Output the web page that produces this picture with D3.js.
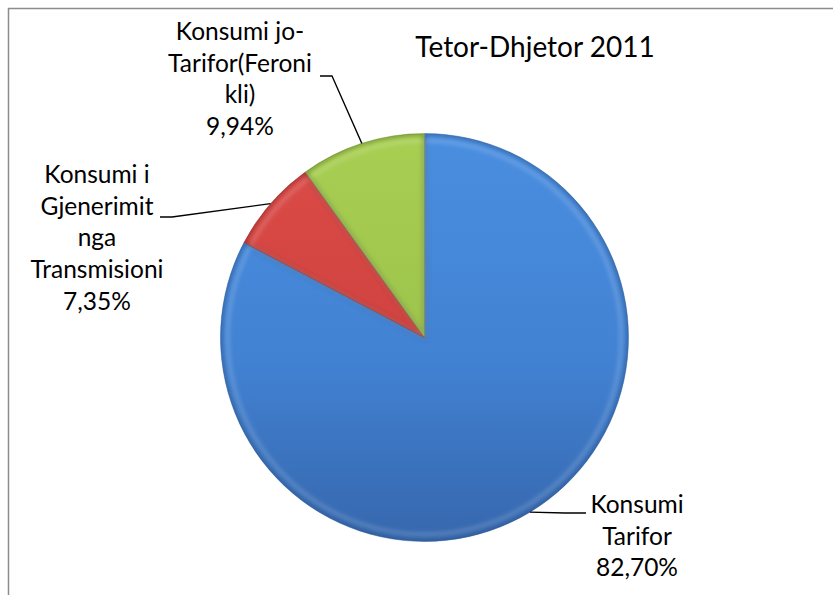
<!DOCTYPE html>
<html>
<head>
<meta charset="utf-8">
<script src="https://cdn.jsdelivr.net/npm/d3@7/dist/d3.min.js"></script>
<style>
  html, body { margin: 0; padding: 0; background: #fff; }
  svg { display: block; }
  text { font-family: Lato, "Open Sans", sans-serif; fill: #000; }
</style>
</head>
<body>
<svg id="chart" width="833" height="595"></svg>
<script>
// ---- data ----
const chartTitle = "Tetor-Dhjetor 2011";
const categories = ["Konsumi Tarifor", "Konsumi i Gjenerimit nga Transmisioni", "Konsumi jo-Tarifor(Feroni kli)"];
const values = [82.70, 7.35, 9.94];
const valueLabels = ["82,70%", "7,35%", "9,94%"];
const labelLines = [
  ["Konsumi", "Tarifor"],
  ["Konsumi i", "Gjenerimit", "nga", "Transmisioni"],
  ["Konsumi jo-", "Tarifor(Feroni", "kli)"]
];

// ---- layout / style ----
const W = 833, H = 595;
const cx = 424.5, cy = 337.5, R = 204;
const baseColors = ["#4282d3", "#cf423f", "#9dc44b"];
const lightColors = ["#4a8ee0", "#dc4c48", "#a8cf52"];
const darkColors = ["#3667ad", "#a83532", "#7f9f3a"];
const edgeColors = ["#2c5590", "#8e2a28", "#5f7a2a"];
const labelPos = [
  { x: 637, y: 513, end: [586, 513], elbow: [565, 513] },
  { x: 97,  y: 183, end: [160, 217], elbow: [172, 217] },
  { x: 240, y: 40,  end: [320, 76],  elbow: [332, 76] }
];
const lineH = 31.7;
const fontSize = 24.5;

const svg = d3.select("#chart");
const defs = svg.append("defs");

// frame
svg.append("path")
  .attr("d", `M8.5,${H} L8.5,8.5 L${W},8.5`)
  .attr("fill", "none")
  .attr("stroke", "#8c8c8c")
  .attr("stroke-width", 1.5);

const pie = d3.pie().sort(null).value(d => d)(values);
const arc = d3.arc().innerRadius(0).outerRadius(R);
const rimArc = d3.arc().innerRadius(R).outerRadius(R);

const g = svg.append("g").attr("transform", `translate(${cx},${cy})`);

// blur filter for soft bevel edges
const f = defs.append("filter").attr("id", "soft").attr("x", "-10%").attr("y", "-10%").attr("width", "120%").attr("height", "120%");
f.append("feGaussianBlur").attr("stdDeviation", 2.2);

pie.forEach((d, i) => {
  const grad = defs.append("linearGradient")
    .attr("id", "grad" + i)
    .attr("gradientUnits", "userSpaceOnUse")
    .attr("x1", 0).attr("y1", -R).attr("x2", 0).attr("y2", R);
  grad.append("stop").attr("offset", "0%").attr("stop-color", lightColors[i]);
  grad.append("stop").attr("offset", "55%").attr("stop-color", baseColors[i]);
  grad.append("stop").attr("offset", "100%").attr("stop-color", darkColors[i]);

  defs.append("clipPath").attr("id", "clip" + i)
    .append("path").attr("d", arc(d));
});

pie.forEach((d, i) => {
  const sg = g.append("g");
  sg.append("path")
    .attr("d", arc(d))
    .attr("fill", `url(#grad${i})`);
  const bev = sg.append("g").attr("clip-path", `url(#clip${i})`);
  bev.append("path")
    .attr("d", arc(d))
    .attr("fill", "none")
    .attr("stroke", edgeColors[i])
    .attr("stroke-opacity", 0.55)
    .attr("stroke-width", 5)
    .attr("filter", "url(#soft)");
  bev.append("path")
    .attr("d", d3.arc().innerRadius(0).outerRadius(R - 7)(d))
    .attr("fill", "none")
    .attr("stroke", "#ffffff")
    .attr("stroke-opacity", 0.18)
    .attr("stroke-width", 4)
    .attr("filter", "url(#soft)");
  sg.append("path")
    .attr("d", arc(d))
    .attr("fill", "none")
    .attr("stroke", edgeColors[i])
    .attr("stroke-opacity", 0.5)
    .attr("stroke-width", 0.8);
});

// leader lines
pie.forEach((d, i) => {
  const p = rimArc.centroid(d);
  const start = [cx + p[0], cy + p[1]];
  const lp = labelPos[i];
  svg.append("polyline")
    .attr("points", [start, lp.elbow, lp.end].map(q => q.join(",")).join(" "))
    .attr("fill", "none")
    .attr("stroke", "#000")
    .attr("stroke-width", 1.3);
});

// labels
pie.forEach((d, i) => {
  const lp = labelPos[i];
  const lines = labelLines[i].concat([valueLabels[i]]);
  const t = svg.append("text")
    .attr("text-anchor", "middle")
    .attr("font-size", fontSize);
  lines.forEach((ln, k) => {
    t.append("tspan").attr("x", lp.x).attr("y", lp.y + k * lineH).text(ln);
  });
});

// title
svg.append("text")
  .attr("x", 535)
  .attr("y", 57)
  .attr("text-anchor", "middle")
  .attr("font-size", 28)
  .text(chartTitle);
</script>
</body>
</html>
